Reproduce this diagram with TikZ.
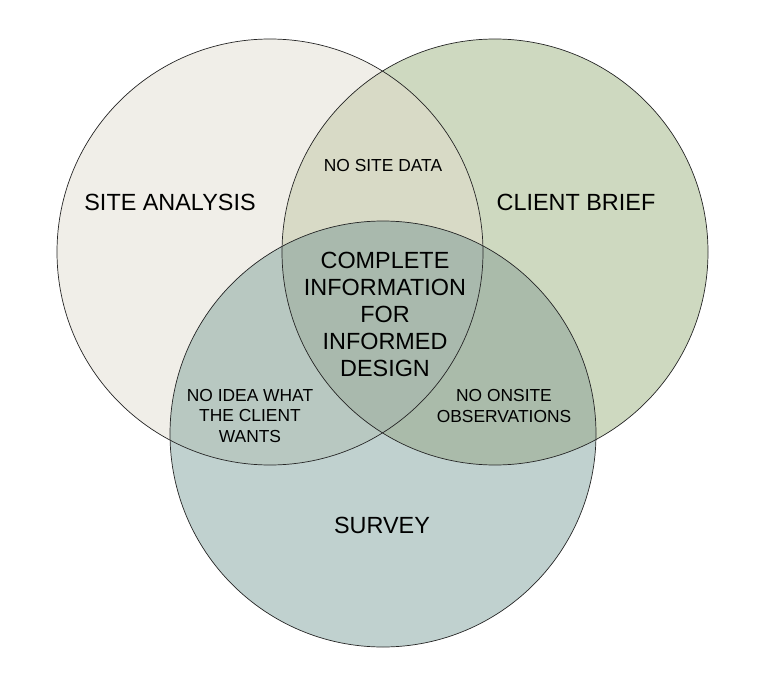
\documentclass[tikz,border=0pt]{standalone}
\usepackage{fontspec}
\setmainfont{Liberation Sans}
\usepackage{tikz}
\definecolor{sitefill}{HTML}{F0EEE8}
\definecolor{clientfill}{HTML}{CED9C0}
\definecolor{surveyfill}{HTML}{C0D1CF}
\definecolor{scfill}{HTML}{D8DAC6}
\definecolor{ssfill}{HTML}{B8C8C1}
\definecolor{csfill}{HTML}{AABBAA}
\definecolor{allfill}{HTML}{A9B9AD}
\begin{document}
\begin{tikzpicture}[
  x=1pt, y=-1pt,
  ring/.style={draw=black!85, line width=0.7pt},
  biglabel/.style={align=center, inner sep=0pt, font=\fontsize{23.4}{27}\selectfont},
  smalllabel/.style={align=center, inner sep=0pt, font=\fontsize{17.4}{20.3}\selectfont}
]
\useasboundingbox (0,0) rectangle (770,682);
\def\rad{213pt}
\coordinate (site) at (270,252);
\coordinate (client) at (495,252);
\coordinate (survey) at (383,434);

% the three sets
\fill[sitefill] (site) circle (\rad);
\fill[clientfill] (client) circle (\rad);
\fill[surveyfill] (survey) circle (\rad);
% overlaps
\begin{scope}
  \clip (site) circle (\rad);
  \fill[scfill] (client) circle (\rad);
  \fill[ssfill] (survey) circle (\rad);
\end{scope}
\begin{scope}
  \clip (client) circle (\rad);
  \fill[csfill] (survey) circle (\rad);
  \clip (survey) circle (\rad);
  \fill[allfill] (site) circle (\rad);
\end{scope}
\draw[ring] (site) circle (\rad);
\draw[ring] (client) circle (\rad);
\draw[ring] (survey) circle (\rad);

% labels
\node[biglabel] (sitelbl) at (170,202) {SITE ANALYSIS};
\node[biglabel] (clientlbl) at (576,202) {CLIENT BRIEF};
\node[biglabel] (surveylbl) at (382,525) {SURVEY};
\node[biglabel] (centrelbl) at (385,314) {COMPLETE\\INFORMATION\\FOR\\INFORMED\\DESIGN};
\node[smalllabel] (nositedata) at (383,166) {NO SITE DATA};
\node[smalllabel] (noidea) at (250,416) {NO IDEA WHAT\\THE CLIENT\\WANTS};
\node[smalllabel] (noonsite) at (504,406) {NO ONSITE\\OBSERVATIONS};
\end{tikzpicture}
\end{document}
